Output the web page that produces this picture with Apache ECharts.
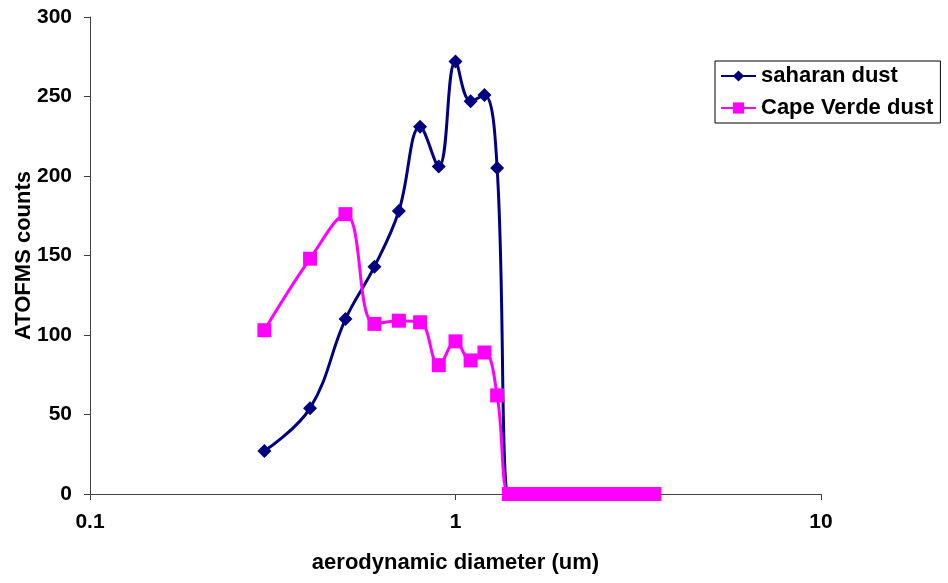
<!DOCTYPE html>
<html>
<head>
<meta charset="utf-8">
<script src="https://cdn.jsdelivr.net/npm/echarts@6/dist/echarts.min.js"></script>
<style>
  html, body { margin: 0; padding: 0; background: #fff; }
  #chart { width: 948px; height: 583px; }
</style>
</head>
<body>
<div id="chart"></div>
<script>
// particle size bins (um)
var diameters = [0.3, 0.4, 0.5, 0.6, 0.7, 0.8, 0.9, 1.0, 1.1, 1.2, 1.3,
  1.4, 1.5, 1.6, 1.7, 1.8, 1.9, 2.0, 2.1, 2.2, 2.3, 2.4, 2.5, 2.6, 2.7,
  2.8, 2.9, 3.0, 3.1, 3.2, 3.3, 3.4, 3.5];
var saharanCounts = [27, 54, 110, 143, 178, 231, 206, 272, 247, 251, 205,
  0, 0, 0, 0, 0, 0, 0, 0, 0, 0, 0, 0, 0, 0, 0, 0, 0, 0, 0, 0, 0, 0];
var capeVerdeCounts = [103, 148, 176, 107, 109, 108, 81, 96, 84, 89, 62,
  0, 0, 0, 0, 0, 0, 0, 0, 0, 0, 0, 0, 0, 0, 0, 0, 0, 0, 0, 0, 0, 0];
var yTicks = [0, 50, 100, 150, 200, 250, 300];

var FONT = 'Liberation Sans, Arial, sans-serif';

function pairs(xs, ys) {
    return xs.map(function (x, i) { return [x, ys[i]]; });
}

var chart = echarts.init(document.getElementById('chart'));
chart.setOption({
    animation: false,
    textStyle: { fontFamily: FONT },
    grid: { left: 90, right: 127, top: 17, bottom: 89, outerBoundsMode: 'none' },
    legend: {
        orient: 'vertical',
        left: 715, top: 61,
        padding: [4, 7, 4, 5],
        itemGap: 10,
        itemWidth: 35, itemHeight: 14,
        borderColor: '#000', borderWidth: 1,
        textStyle: { fontFamily: FONT, fontWeight: 'bold', fontSize: 22, color: '#000' },
        data: ['saharan dust', 'Cape Verde dust']
    },
    xAxis: {
        type: 'log', logBase: 10, min: 0.1, max: 10,
        name: 'aerodynamic diameter (um)',
        nameLocation: 'middle', nameGap: 58, nameMoveOverlap: false,
        nameTextStyle: { fontFamily: FONT, fontWeight: 'bold', fontSize: 22, color: '#000' },
        axisLine: { onZero: false, lineStyle: { color: '#404040', width: 1 } },
        axisTick: { show: true, length: 6, lineStyle: { color: '#404040' } },
        minorTick: { show: false },
        splitLine: { show: false },
        axisLabel: {
            margin: 18, fontFamily: FONT, fontWeight: 'bold', fontSize: 21, color: '#000',
            formatter: function (v) { return String(Math.round(v * 10) / 10); }
        }
    },
    yAxis: {
        type: 'value', min: yTicks[0], max: yTicks[yTicks.length - 1], interval: 50,
        name: 'ATOFMS counts',
        nameLocation: 'middle', nameGap: 55, nameMoveOverlap: false,
        nameTextStyle: { fontFamily: FONT, fontWeight: 'bold', fontSize: 22, color: '#000' },
        axisLine: { show: true, lineStyle: { color: '#404040', width: 1 } },
        axisTick: { show: true, length: 6, lineStyle: { color: '#404040' } },
        splitLine: { show: false },
        axisLabel: { margin: 18, fontFamily: FONT, fontWeight: 'bold', fontSize: 21, color: '#000' }
    },
    series: [
        {
            name: 'saharan dust', type: 'line', smooth: 0.4,
            data: pairs(diameters, saharanCounts),
            symbol: 'diamond', symbolSize: 14,
            itemStyle: { color: '#000080' },
            lineStyle: { color: '#000080', width: 3 },
            z: 2
        },
        {
            name: 'Cape Verde dust', type: 'line', smooth: 0.4,
            data: pairs(diameters, capeVerdeCounts),
            symbol: 'rect', symbolSize: 14,
            itemStyle: { color: '#FF00FF' },
            lineStyle: { color: '#FF00FF', width: 3 },
            z: 3
        }
    ]
});
</script>
</body>
</html>
